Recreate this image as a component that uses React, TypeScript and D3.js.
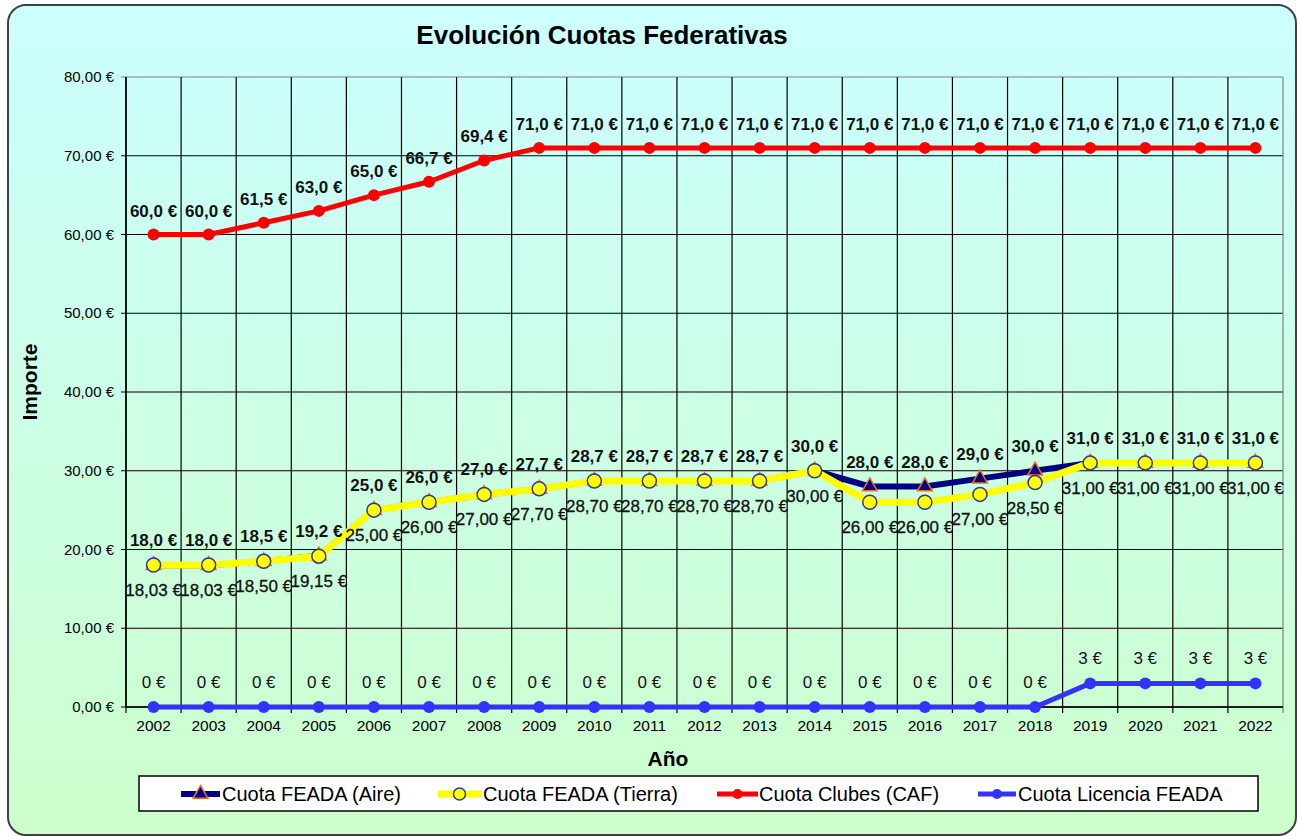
import * as d3 from "d3";

const years = ["2002", "2003", "2004", "2005", "2006", "2007", "2008", "2009", "2010", "2011", "2012", "2013", "2014", "2015", "2016", "2017", "2018", "2019", "2020", "2021", "2022"];
const aire = [18.0, 18.0, 18.5, 19.2, 25.0, 26.0, 27.0, 27.7, 28.7, 28.7, 28.7, 28.7, 30.0, 28.0, 28.0, 29.0, 30.0, 31.0, 31.0, 31.0, 31.0];
const tierra = [18.03, 18.03, 18.5, 19.15, 25.0, 26.0, 27.0, 27.7, 28.7, 28.7, 28.7, 28.7, 30.0, 26.0, 26.0, 27.0, 28.5, 31.0, 31.0, 31.0, 31.0];
const clubes = [60.0, 60.0, 61.5, 63.0, 65.0, 66.7, 69.4, 71.0, 71.0, 71.0, 71.0, 71.0, 71.0, 71.0, 71.0, 71.0, 71.0, 71.0, 71.0, 71.0, 71.0];
const licencia = [0, 0, 0, 0, 0, 0, 0, 0, 0, 0, 0, 0, 0, 0, 0, 0, 0, 3, 3, 3, 3];
const yTicks = [0, 10, 20, 30, 40, 50, 60, 70, 80];
const seriesNames = ["Cuota FEADA (Aire)", "Cuota FEADA (Tierra)", "Cuota Clubes (CAF)", "Cuota Licencia FEADA"];

const W = 1298;
const H = 836;
const PLOT = { left: 126, right: 1283, top: 77, bottom: 707 };
const FONT = "'Liberation Sans', Arial, sans-serif";
const NAVY = "#000080";
const YELLOW = "#FFFF00";
const RED = "#FF0000";
const BLUE = "#3333FF";
const ORANGE = "#E8702A";
const RING = "#333399";

const comma = (s: string) => s.replace(".", ",");
const fmt1 = (v: number) => `${comma(v.toFixed(1))} €`;
const fmt2 = (v: number) => `${comma(v.toFixed(2))} €`;

export default function App() {
  const x = d3.scaleBand<string>().domain(years).range([PLOT.left, PLOT.right]).padding(0);
  const y = d3.scaleLinear().domain([0, 80]).range([PLOT.bottom, PLOT.top]);
  const cx = (i: number) => x(years[i])! + x.bandwidth() / 2;

  const line = d3
    .line<number>()
    .x((_, i) => cx(i))
    .y((d) => y(d));

  const tri = d3.symbol().type(d3.symbolTriangle).size(95)()!;
  const bounds = years.map((yr) => x(yr)!).concat([PLOT.right]);

  // legend entries: line start, line end, text start
  const legendItems = [
    { x1: 181, x2: 220, tx: 222 },
    { x1: 438, x2: 481, tx: 483 },
    { x1: 717, x2: 758, tx: 759 },
    { x1: 978, x2: 1016, tx: 1018 },
  ];
  const legY = 794;

  const legendMarker = (k: number, mx: number) => {
    if (k === 0)
      return <path d={tri} transform={`translate(${mx},${legY})`} fill={NAVY} stroke={ORANGE} strokeWidth={1.5} />;
    if (k === 1) return <circle cx={mx} cy={legY} r={6} fill={YELLOW} stroke={RING} strokeWidth={1.5} />;
    if (k === 2) return <circle cx={mx} cy={legY} r={5} fill={RED} />;
    return <circle cx={mx} cy={legY} r={5} fill={BLUE} />;
  };
  const legendColor = [NAVY, YELLOW, RED, BLUE];
  const legendWidth = [6, 7, 5, 5];

  return (
    <svg
      width={W}
      height={H}
      style={{ position: "absolute", left: 0, top: 0, fontFamily: FONT }}
    >
      <defs>
        <linearGradient id="bg" x1="0" y1="0" x2="0" y2="1">
          <stop offset="0%" stopColor="#CCFFFF" />
          <stop offset="100%" stopColor="#CCFFCC" />
        </linearGradient>
      </defs>
      <rect x={0} y={0} width={W} height={H} fill="#fff" />
      <rect x={8} y={5} width={1288} height={830} rx={18} fill="url(#bg)" stroke="#404040" strokeWidth={2} />

      <text x={602} y={44} textAnchor="middle" fontSize={26} fontWeight="bold" fill="#000">
        Evolución Cuotas Federativas
      </text>

      {/* grid */}
      {yTicks.map((t) => (
        <line
          key={`h${t}`}
          x1={PLOT.left - 5}
          x2={PLOT.right}
          y1={y(t)}
          y2={y(t)}
          stroke={t === 80 ? "#808080" : "#000"}
          strokeWidth={1.2}
        />
      ))}
      {bounds.map((bx, i) => (
        <line
          key={`v${i}`}
          x1={bx}
          x2={bx}
          y1={PLOT.top}
          y2={PLOT.bottom + 6}
          stroke={i === bounds.length - 1 ? "#808080" : "#000"}
          strokeWidth={1.2}
        />
      ))}
      <line x1={PLOT.left} x2={PLOT.left} y1={PLOT.top} y2={PLOT.bottom} stroke="#000" strokeWidth={1.5} />
      <line x1={PLOT.left} x2={PLOT.right} y1={PLOT.bottom} y2={PLOT.bottom} stroke="#000" strokeWidth={1.5} />

      {/* y tick labels */}
      {yTicks.map((t) => (
        <text key={`yl${t}`} x={114} y={y(t) + 5} textAnchor="end" fontSize={15} fill="#000">
          {comma(t.toFixed(2))} €
        </text>
      ))}
      {/* x tick labels */}
      {years.map((yr, i) => (
        <text key={`xl${yr}`} x={cx(i)} y={731} textAnchor="middle" fontSize={15.5} fill="#000">
          {yr}
        </text>
      ))}

      <text x={668} y={766} textAnchor="middle" fontSize={21} fontWeight="bold">
        Año
      </text>
      <text transform="translate(37,382) rotate(-90)" textAnchor="middle" fontSize={21} fontWeight="bold">
        Importe
      </text>

      {/* Aire */}
      <path d={line(aire)!} fill="none" stroke={NAVY} strokeWidth={6} strokeLinejoin="round" />
      {aire.map((v, i) => (
        <path key={`am${i}`} d={tri} transform={`translate(${cx(i)},${y(v)})`} fill={NAVY} stroke={ORANGE} strokeWidth={1.5} />
      ))}

      {/* Tierra */}
      <path d={line(tierra)!} fill="none" stroke={YELLOW} strokeWidth={7} strokeLinejoin="round" />
      {tierra.map((v, i) => (
        <circle key={`tm${i}`} cx={cx(i)} cy={y(v)} r={7} fill={YELLOW} stroke={RING} strokeWidth={1.5} />
      ))}

      {/* Clubes */}
      <path d={line(clubes)!} fill="none" stroke={RED} strokeWidth={5} strokeLinejoin="round" />
      {clubes.map((v, i) => (
        <circle key={`cm${i}`} cx={cx(i)} cy={y(v)} r={6} fill={RED} />
      ))}

      {/* Licencia */}
      <path d={line(licencia)!} fill="none" stroke={BLUE} strokeWidth={5} strokeLinejoin="round" />
      {licencia.map((v, i) => (
        <circle key={`lm${i}`} cx={cx(i)} cy={y(v)} r={6} fill={BLUE} />
      ))}

      {/* data labels */}
      {aire.map((v, i) => (
        <text key={`al${i}`} x={cx(i)} y={y(v) - 19} textAnchor="middle" fontSize={17} fontWeight="bold" fill="#111">
          {fmt1(v)}
        </text>
      ))}
      {tierra.map((v, i) => (
        <text key={`tl${i}`} x={cx(i)} y={y(v) + 31} textAnchor="middle" fontSize={17} fill="#111" stroke="#111" strokeWidth={0.3}>
          {fmt2(v)}
        </text>
      ))}
      {clubes.map((v, i) => (
        <text key={`cl${i}`} x={cx(i)} y={y(v) - 18} textAnchor="middle" fontSize={17} fontWeight="bold" fill="#111">
          {fmt1(v)}
        </text>
      ))}
      {licencia.map((v, i) => (
        <text key={`ll${i}`} x={cx(i)} y={y(v) - 19} textAnchor="middle" fontSize={17} fill="#111">
          {`${v} €`}
        </text>
      ))}

      {/* legend */}
      <rect x={139} y={776} width={1119} height={35} fill="#fff" stroke="#000" strokeWidth={1.5} />
      {legendItems.map((it, k) => (
        <g key={`lg${k}`}>
          <line x1={it.x1} x2={it.x2} y1={legY} y2={legY} stroke={legendColor[k]} strokeWidth={legendWidth[k]} />
          {legendMarker(k, (it.x1 + it.x2) / 2)}
          <text x={it.tx} y={legY + 7} fontSize={20} fill="#000">
            {seriesNames[k]}
          </text>
        </g>
      ))}
    </svg>
  );
}
